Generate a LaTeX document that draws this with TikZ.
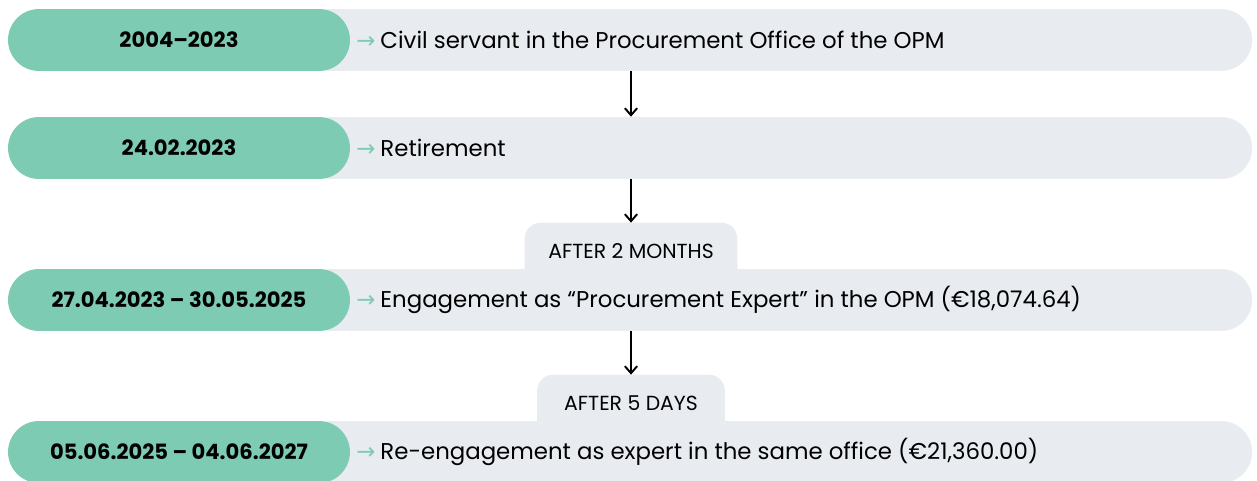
\documentclass[tikz,border=0pt]{standalone}
\usepackage{fontspec}
\setmainfont{Poppins}
\newfontfamily\arrowfont{DejaVu Sans}
\usepackage{xcolor}
\usetikzlibrary{positioning,calc,arrows.meta,backgrounds}

\definecolor{pillgreen}{HTML}{7ECBB3}
\definecolor{barfill}{HTML}{E8EBF0}

\begin{document}
\begin{tikzpicture}[
    x=0.02cm, y=-0.02cm,
    bar/.style={fill=barfill, rectangle, rounded corners=0.62cm, minimum width=19.04cm, minimum height=1.24cm, anchor=west, inner sep=0pt},
    pill/.style={fill=pillgreen, rectangle, rounded corners=0.62cm, minimum width=6.84cm, minimum height=1.24cm, font=\fontsize{12}{14}\selectfont\bfseries},
    event/.style={anchor=west, inner sep=0pt, font=\fontsize{13}{15}\selectfont},
    tab/.style={rectangle, minimum height=1.12cm, inner sep=0pt, font=\fontsize{11.6}{13}\selectfont},
    flow/.style={-{Straight Barb[length=4pt,width=7pt]}, line width=1.1pt}
]
    \clip (0,0) rectangle (1257,480);

    % Rows: date pill over a grey bar
    \foreach \n/\y/\dates/\what in {
        1/40/{2004--2023}/{Civil servant in the Procurement Office of the OPM},
        2/148/{24.02.2023}/{Retirement},
        3/300/{27.04.2023 -- 30.05.2025}/{Engagement as “Procurement Expert” in the OPM (€18,074.64)},
        4/452/{05.06.2025 -- 04.06.2027}/{Re-engagement as expert in the same office (€21,360.00)}} {
        \node [bar] (bar\n) at (300,\y) {};
        \node [pill] (date\n) at (179,\y) {\dates};
        \node [event] (event\n) at (356,\y) {\textcolor{pillgreen}{\fontsize{13}{15}\arrowfont →}\hspace{0.1cm}\what};
    }

    % Gap tabs sitting on the bars
    \node [tab, minimum width=4.24cm] (gap1) at (631,251) {AFTER 2 MONTHS};
    \node [tab, minimum width=3.74cm] (gap2) at (631,403) {AFTER 5 DAYS};
    \begin{scope}[on background layer]
        \foreach \g in {gap1, gap2} {
            \fill [barfill, rounded corners=0.32cm] (\g.south west) -- (\g.north west) -- (\g.north east) -- (\g.south east);
        }
    \end{scope}

    % Arrows
    \draw [flow] (gap1 |- bar1.south) -- (gap1 |- bar2.north);
    \draw [flow] (gap1 |- bar2.south) -- (gap1.north);
    \draw [flow] (gap2 |- bar3.south) -- (gap2.north);
\end{tikzpicture}
\end{document}
